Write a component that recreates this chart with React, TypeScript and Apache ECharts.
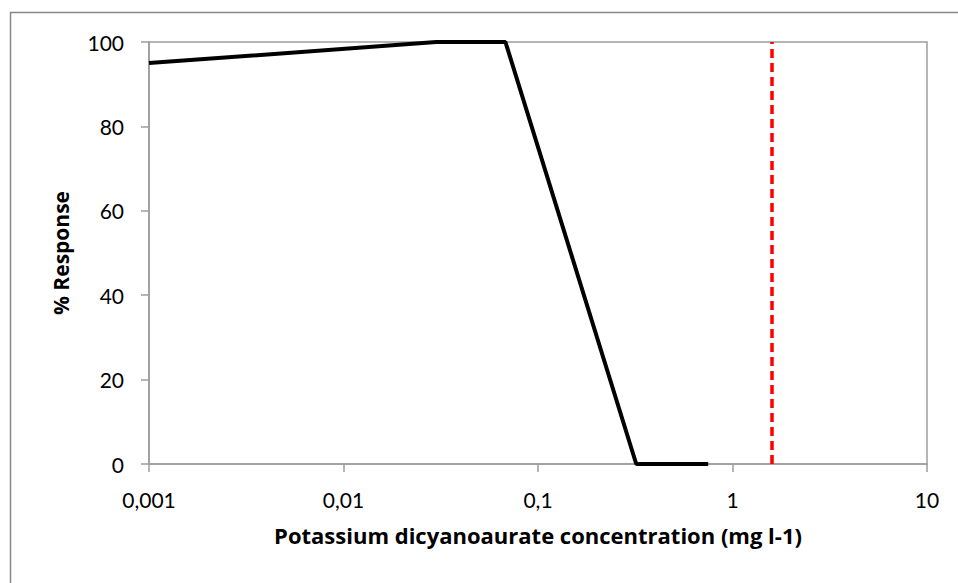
import React, { useEffect, useRef } from "react";
import * as echarts from "echarts";

const concentrations = [0.001, 0.03, 0.068, 0.32, 0.75];
const responses = [95, 100, 100, 0, 0];
const thresholdX = 1.6;
const yTicks = [0, 20, 40, 60, 80, 100];
const xTitle = "Potassium dicyanoaurate concentration (mg l-1)";
const yTitle = "% Response";

export default function App() {
  const ref = useRef<HTMLDivElement>(null);
  useEffect(() => {
    const chart = echarts.init(ref.current!, null, { renderer: "svg" });
    const font = "Lato, 'Open Sans', sans-serif";
    const titleFont = "'Open Sans', Lato, sans-serif";
    chart.setOption({
      animation: false,
      backgroundColor: "#ffffff",
      graphic: [
        {
          type: "rect",
          shape: { x: 10.5, y: 12.5, width: 1000, height: 700 },
          style: { fill: "none", stroke: "#878787", lineWidth: 1.5 },
          silent: true,
        },
      ],
      grid: {
        left: 149,
        right: 31,
        top: 42,
        bottom: 119,
        show: true,
        borderColor: "#9d9d9d",
        borderWidth: 1.5,
        backgroundColor: "transparent",
      },
      xAxis: {
        type: "log",
        logBase: 10,
        min: 0.001,
        max: 10,
        name: xTitle,
        nameLocation: "middle",
        nameGap: 60,
        nameTextStyle: { fontFamily: titleFont, fontWeight: "bold", fontSize: 22, color: "#000" },
        axisLine: { show: true, onZero: false, lineStyle: { color: "#9d9d9d", width: 1.5 } },
        axisTick: { show: true, length: 8, lineStyle: { color: "#9d9d9d", width: 1.5 } },
        splitLine: { show: false },
        minorTick: { show: false },
        axisLabel: {
          fontFamily: font,
          fontSize: 21,
          color: "#000",
          margin: 25,
          formatter: (v: number) => {
            const s = v >= 1 ? String(Math.round(v)) : v.toFixed(Math.round(-Math.log10(v)));
            return s.replace(".", ",");
          },
        },
      },
      yAxis: {
        type: "value",
        min: 0,
        max: 100,
        interval: 20,
        name: yTitle,
        nameLocation: "middle",
        nameGap: 78,
        nameTextStyle: { fontFamily: titleFont, fontWeight: "bold", fontSize: 21, color: "#000" },
        axisLine: { show: true, lineStyle: { color: "#9d9d9d", width: 1.5 } },
        axisTick: { show: true, length: 8, lineStyle: { color: "#9d9d9d", width: 1.5 } },
        splitLine: { show: false },
        axisLabel: {
          fontFamily: font,
          fontSize: 21,
          color: "#000",
          margin: 25,
          formatter: (v: number) => (yTicks.includes(v) ? String(v) : ""),
        },
      },
      series: [
        {
          type: "line",
          data: concentrations.map((c, i) => [c, responses[i]]),
          showSymbol: false,
          symbol: "none",
          lineStyle: { color: "#000", width: 4 },
          clip: false,
          markLine: {
            silent: true,
            symbol: ["none", "none"],
            label: { show: false },
            lineStyle: { color: "#ff0000", width: 3.5, type: [9, 5], opacity: 1 },
            data: [{ xAxis: thresholdX }],
          },
        },
      ],
    });
    return () => chart.dispose();
  }, []);
  return <div ref={ref} style={{ width: 958, height: 583, position: "absolute", left: 0, top: 0 }} />;
}
